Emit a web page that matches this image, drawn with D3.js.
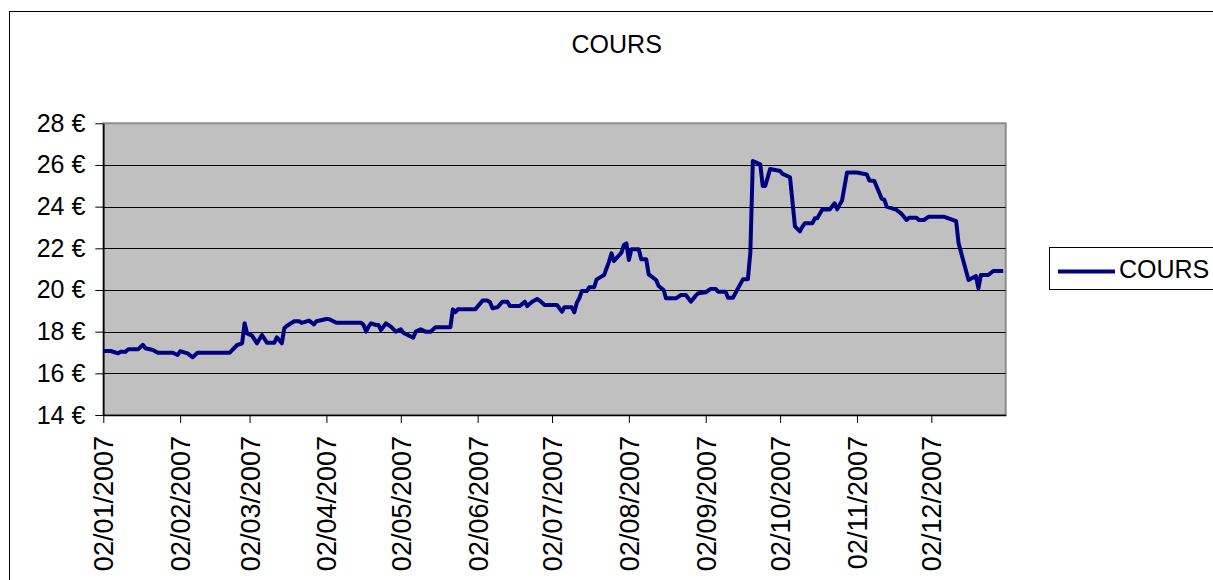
<!DOCTYPE html>
<html>
<head>
<meta charset="utf-8">
<script src="https://cdn.jsdelivr.net/npm/d3@7"></script>
<style>
  body { margin: 0; background: #fff; }
  svg { display: block; font-family: "Liberation Sans", Arial, sans-serif; }
</style>
</head>
<body>
<div id="chart"></div>
<script>
// Values
const dates = [
  "02/01/2007", "05/01/2007", "08/01/2007", "09/01/2007", "11/01/2007", "12/01/2007", "16/01/2007", "18/01/2007",
  "19/01/2007", "22/01/2007", "24/01/2007", "30/01/2007", "01/02/2007", "02/02/2007", "05/02/2007", "07/02/2007",
  "09/02/2007", "22/02/2007", "25/02/2007", "27/02/2007", "28/02/2007", "01/03/2007", "03/03/2007", "05/03/2007",
  "07/03/2007", "09/03/2007", "12/03/2007", "13/03/2007", "15/03/2007", "16/03/2007", "17/03/2007", "20/03/2007",
  "22/03/2007", "23/03/2007", "26/03/2007", "28/03/2007", "29/03/2007", "02/04/2007", "03/04/2007", "06/04/2007",
  "16/04/2007", "17/04/2007", "18/04/2007", "19/04/2007", "20/04/2007", "22/04/2007", "23/04/2007", "24/04/2007",
  "26/04/2007", "28/04/2007", "30/04/2007", "02/05/2007", "03/05/2007", "04/05/2007", "07/05/2007", "08/05/2007",
  "10/05/2007", "12/05/2007", "14/05/2007", "16/05/2007", "22/05/2007", "23/05/2007", "24/05/2007", "25/05/2007",
  "01/06/2007", "04/06/2007", "06/06/2007", "07/06/2007", "08/06/2007", "10/06/2007", "12/06/2007", "14/06/2007",
  "15/06/2007", "19/06/2007", "21/06/2007", "22/06/2007", "24/06/2007", "26/06/2007", "27/06/2007", "29/06/2007",
  "04/07/2007", "06/07/2007", "07/07/2007", "10/07/2007", "11/07/2007", "12/07/2007", "13/07/2007", "14/07/2007",
  "16/07/2007", "17/07/2007", "19/07/2007", "20/07/2007", "23/07/2007", "25/07/2007", "26/07/2007", "27/07/2007",
  "30/07/2007", "31/07/2007", "01/08/2007", "02/08/2007", "03/08/2007", "06/08/2007", "07/08/2007", "09/08/2007",
  "10/08/2007", "13/08/2007", "14/08/2007", "16/08/2007", "17/08/2007", "21/08/2007", "23/08/2007", "25/08/2007",
  "27/08/2007", "29/08/2007", "30/08/2007", "02/09/2007", "04/09/2007", "06/09/2007", "07/09/2007", "10/09/2007",
  "11/09/2007", "13/09/2007", "15/09/2007", "17/09/2007", "19/09/2007", "20/09/2007", "21/09/2007", "24/09/2007",
  "25/09/2007", "26/09/2007", "28/09/2007", "02/10/2007", "03/10/2007", "06/10/2007", "08/10/2007", "10/10/2007",
  "11/10/2007", "12/10/2007", "15/10/2007", "16/10/2007", "17/10/2007", "19/10/2007", "22/10/2007", "24/10/2007",
  "25/10/2007", "27/10/2007", "29/10/2007", "02/11/2007", "06/11/2007", "07/11/2007", "09/11/2007", "12/11/2007",
  "13/11/2007", "14/11/2007", "18/11/2007", "20/11/2007", "22/11/2007", "23/11/2007", "26/11/2007", "27/11/2007",
  "29/11/2007", "01/12/2007", "07/12/2007", "12/12/2007", "13/12/2007", "17/12/2007", "20/12/2007", "21/12/2007",
  "22/12/2007", "25/12/2007", "27/12/2007", "31/12/2007"
];
const cours = [
  17.07, 17.07, 16.96, 17.04, 17.04, 17.15, 17.15, 17.37,
  17.20, 17.12, 16.99, 16.99, 16.88, 17.06, 16.96, 16.77,
  16.99, 16.99, 17.36, 17.44, 18.40, 17.92, 17.81, 17.44,
  17.84, 17.47, 17.47, 17.73, 17.44, 18.16, 18.27, 18.50,
  18.50, 18.42, 18.53, 18.35, 18.50, 18.61, 18.61, 18.43,
  18.43, 18.32, 18.00, 18.24, 18.40, 18.32, 18.32, 18.08,
  18.40, 18.24, 18.00, 18.11, 17.95, 17.89, 17.71, 18.00,
  18.11, 18.00, 18.00, 18.21, 18.21, 19.07, 18.93, 19.07,
  19.07, 19.49, 19.49, 19.41, 19.12, 19.17, 19.44, 19.44,
  19.23, 19.23, 19.44, 19.23, 19.44, 19.57, 19.49, 19.28,
  19.28, 18.96, 19.17, 19.17, 18.93, 19.39, 19.60, 19.95,
  19.95, 20.13, 20.13, 20.51, 20.72, 21.36, 21.76, 21.39,
  21.79, 22.16, 22.24, 21.44, 21.95, 21.95, 21.47, 21.47,
  20.75, 20.48, 20.19, 20.00, 19.60, 19.60, 19.76, 19.76,
  19.44, 19.73, 19.84, 19.89, 20.05, 20.05, 19.92, 19.92,
  19.63, 19.63, 20.08, 20.51, 20.51, 21.80, 26.19, 26.03,
  24.99, 24.99, 25.81, 25.71, 25.57, 25.41, 23.05, 22.81,
  23.04, 23.20, 23.20, 23.44, 23.44, 23.86, 23.86, 24.16,
  23.87, 24.30, 25.64, 25.64, 25.54, 25.25, 25.23, 24.38,
  24.35, 24.00, 23.84, 23.65, 23.36, 23.47, 23.47, 23.36,
  23.36, 23.52, 23.52, 23.31, 22.24, 20.48, 20.67, 20.08,
  20.72, 20.72, 20.91, 20.91
];
const yTicks = [14, 16, 18, 20, 22, 24, 26, 28];
const xTickLabels = [
  "02/01/2007", "02/02/2007", "02/03/2007", "02/04/2007", "02/05/2007", "02/06/2007",
  "02/07/2007", "02/08/2007", "02/09/2007", "02/10/2007", "02/11/2007", "02/12/2007"
];
const seriesName = "COURS";

const width = 1213, height = 580;
const plot = { left: 103.3, right: 1005.7, top: 123.3, bottom: 415 };
const parse = d3.timeParse("%d/%m/%Y");

const data = dates.map((d, i) => ({ date: parse(d), value: cours[i] }));

const svg = d3.select("#chart").append("svg")
  .attr("width", width)
  .attr("height", height);

// chart area border (runs off the right and bottom of the picture)
svg.append("rect")
  .attr("x", 9.5).attr("y", 11.5)
  .attr("width", 1300).attr("height", 700)
  .attr("fill", "#fff").attr("stroke", "#000").attr("stroke-width", 1);

const x = d3.scaleTime()
  .domain([parse("02/01/2007"), parse("01/01/2008")])
  .range([plot.left, plot.right]);

const y = d3.scaleLinear()
  .domain([14, 28])
  .range([plot.bottom, plot.top]);

// plot area
svg.append("rect")
  .attr("x", plot.left).attr("y", plot.top)
  .attr("width", plot.right - plot.left).attr("height", plot.bottom - plot.top)
  .attr("fill", "#c0c0c0").attr("stroke", "#8c8c8c").attr("stroke-width", 2);

// gridlines
svg.append("g")
  .selectAll("line")
  .data(yTicks.filter(t => t > 14 && t < 28))
  .join("line")
  .attr("x1", plot.left).attr("x2", plot.right)
  .attr("y1", d => Math.round(y(d)) + 0.5).attr("y2", d => Math.round(y(d)) + 0.5)
  .attr("stroke", "#000").attr("stroke-width", 1);

// y axis
const yAxis = svg.append("g")
  .attr("transform", `translate(${plot.left},0)`)
  .call(d3.axisLeft(y).tickValues(yTicks).tickSize(8).tickSizeOuter(0).tickPadding(10).tickFormat(d => d + " €"));
yAxis.select(".domain").attr("stroke", "#000").attr("stroke-width", 1.5);
yAxis.selectAll(".tick line").attr("stroke", "#000");
yAxis.selectAll("text")
  .attr("font-size", 25).attr("fill", "#000")
  .attr("font-family", "'Liberation Sans', Arial, sans-serif");

// x axis
const xAxis = svg.append("g")
  .attr("transform", `translate(0,${plot.bottom})`)
  .call(d3.axisBottom(x).tickValues(xTickLabels.map(parse)).tickSize(8).tickSizeOuter(0).tickFormat(d3.timeFormat("%d/%m/%Y")));
xAxis.select(".domain").attr("stroke", "#000").attr("stroke-width", 1.5);
xAxis.selectAll(".tick line").attr("stroke", "#000");
xAxis.selectAll("text")
  .attr("font-size", 27).attr("fill", "#000")
  .attr("font-family", "'Liberation Sans', Arial, sans-serif")
  .attr("transform", "rotate(-90)")
  .attr("text-anchor", "end")
  .attr("x", -21).attr("y", 0).attr("dy", "0.35em");

// series
const line = d3.line()
  .x(d => x(d.date))
  .y(d => y(d.value));

svg.append("path")
  .datum(data)
  .attr("d", line)
  .attr("fill", "none")
  .attr("stroke", "#000080")
  .attr("stroke-width", 4)
  .attr("stroke-linejoin", "round");

// title
svg.append("text")
  .attr("x", 616.7).attr("y", 53)
  .attr("text-anchor", "middle")
  .attr("font-size", 25)
  .text(seriesName);

// legend
const legend = svg.append("g");
legend.append("rect")
  .attr("x", 1049.5).attr("y", 247.5)
  .attr("width", 250).attr("height", 42)
  .attr("fill", "#fff").attr("stroke", "#000");
legend.append("line")
  .attr("x1", 1058).attr("x2", 1115)
  .attr("y1", 271.5).attr("y2", 271.5)
  .attr("stroke", "#000080").attr("stroke-width", 4);
legend.append("text")
  .attr("x", 1119).attr("y", 277.5)
  .attr("font-size", 25)
  .text(seriesName);
</script>
</body>
</html>
